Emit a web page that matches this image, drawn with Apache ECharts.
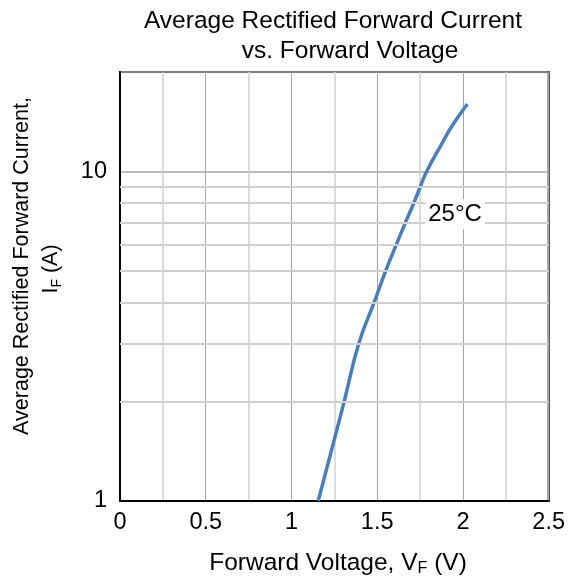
<!DOCTYPE html>
<html>
<head>
<meta charset="utf-8">
<script src="https://cdn.jsdelivr.net/npm/echarts@6/dist/echarts.min.js"></script>
<style>html,body{margin:0;padding:0;background:#fff;}#c{width:568px;height:579px;}</style>
</head>
<body>
<div id="c"></div>
<script>
// Data
const voltage = [1.156, 1.307, 1.392, 1.482, 1.550, 1.612, 1.665, 1.713, 1.752, 1.789, 1.880, 1.935, 2.026];
const current = [1, 2, 3, 4, 5, 6, 7, 8, 9, 10, 12.2, 13.7, 16];
const yMinorGrid = [2, 3, 4, 5, 6, 7, 8, 9];
const yLabels = [1, 10];

const FONT = "'Liberation Sans', Arial, sans-serif";
const chart = echarts.init(document.getElementById('c'), null, {renderer: 'canvas'});
const pts = voltage.map((v, i) => [v, current[i]]);

chart.setOption({
  animation: false,
  backgroundColor: '#fff',
  grid: {left: 120, right: 19, top: 72, bottom: 78, show: true, borderColor: '#000', borderWidth: 2, backgroundColor: '#fff'},
  xAxis: {
    type: 'value', min: 0, max: 2.5, interval: 0.5,
    axisLine: {show: true, onZero: false, lineStyle: {color: '#000', width: 2}},
    axisTick: {show: false},
    axisLabel: {color: '#000', fontSize: 23.5, fontFamily: FONT, margin: 10},
    splitLine: {show: true, lineStyle: {color: '#a6a6a6', width: 1}},
    minorTick: {show: false, splitNumber: 2},
    minorSplitLine: {show: true, lineStyle: {color: '#d0d0d0', width: 1.5}}
  },
  yAxis: {
    type: 'log', logBase: 10, min: 1, max: 20,
    axisLine: {show: true, lineStyle: {color: '#000', width: 2}},
    axisTick: {show: false},
    axisLabel: {
      color: '#000', fontSize: 23.5, fontFamily: FONT, margin: 13,
      formatter: v => yLabels.some(l => Math.abs(l - v) < 1e-6) ? String(Math.round(v)) : ''
    },
    splitLine: {show: true, lineStyle: {color: '#a6a6a6', width: 1.5}}
  },
  series: [
    {
      type: 'line', data: pts, showSymbol: false, silent: true, z: 1,
      lineStyle: {width: 0, opacity: 0},
      markLine: {
        silent: true, symbol: 'none', animation: false,
        label: {show: false},
        lineStyle: {color: '#d0d0d0', width: 2, type: 'solid'},
        data: yMinorGrid.map(v => ({yAxis: v}))
      }
    },
    {
      type: 'line', data: pts, showSymbol: false, smooth: 0.45, z: 3,
      lineStyle: {color: '#4a7ebb', width: 3.5},
      itemStyle: {color: '#4a7ebb'}
    }
  ],
  graphic: [
    {type: 'text', x: 333, y: 21, style: {text: 'Average Rectified Forward Current', font: '24.5px ' + FONT, fill: '#000', textAlign: 'center', textVerticalAlign: 'middle', align: 'center', verticalAlign: 'middle'}},
    {type: 'text', x: 350, y: 51, style: {text: 'vs. Forward Voltage', font: '24.5px ' + FONT, fill: '#000', textAlign: 'center', textVerticalAlign: 'middle', align: 'center', verticalAlign: 'middle'}},
    {type: 'text', x: 22, y: 266, rotation: Math.PI / 2, style: {text: 'Average Rectified Forward Current,', font: '21.5px ' + FONT, fill: '#000', textAlign: 'center', textVerticalAlign: 'middle', align: 'center', verticalAlign: 'middle'}},
    {type: 'text', x: 51, y: 269, rotation: Math.PI / 2, style: {
      text: '{a|I}{s|F}{a| (A)}', fill: '#000', textAlign: 'center', textVerticalAlign: 'middle', align: 'center', verticalAlign: 'middle',
      rich: {a: {fontSize: 21.5, fontFamily: FONT, lineHeight: 26, fill: '#000', color: '#000'}, s: {fontSize: 14, fontFamily: FONT, lineHeight: 26, verticalAlign: 'bottom', fill: '#000', color: '#000'}}
    }},
    {type: 'text', x: 338, y: 563, style: {
      text: '{a|Forward Voltage, V}{s|F}{a| (V)}', fill: '#000', textAlign: 'center', textVerticalAlign: 'middle', align: 'center', verticalAlign: 'middle',
      rich: {a: {fontSize: 24.5, fontFamily: FONT, lineHeight: 28, fill: '#000', color: '#000'}, s: {fontSize: 16, fontFamily: FONT, lineHeight: 28, verticalAlign: 'bottom', fill: '#000', color: '#000'}}
    }},
    {type: 'text', x: 455, y: 214, z: 10, style: {text: '25°C', font: '24px ' + FONT, fill: '#000', textAlign: 'center', textVerticalAlign: 'middle', align: 'center', verticalAlign: 'middle', backgroundColor: '#fff', padding: [3, 3, 3, 3]}}
  ]
});
</script>
</body>
</html>
